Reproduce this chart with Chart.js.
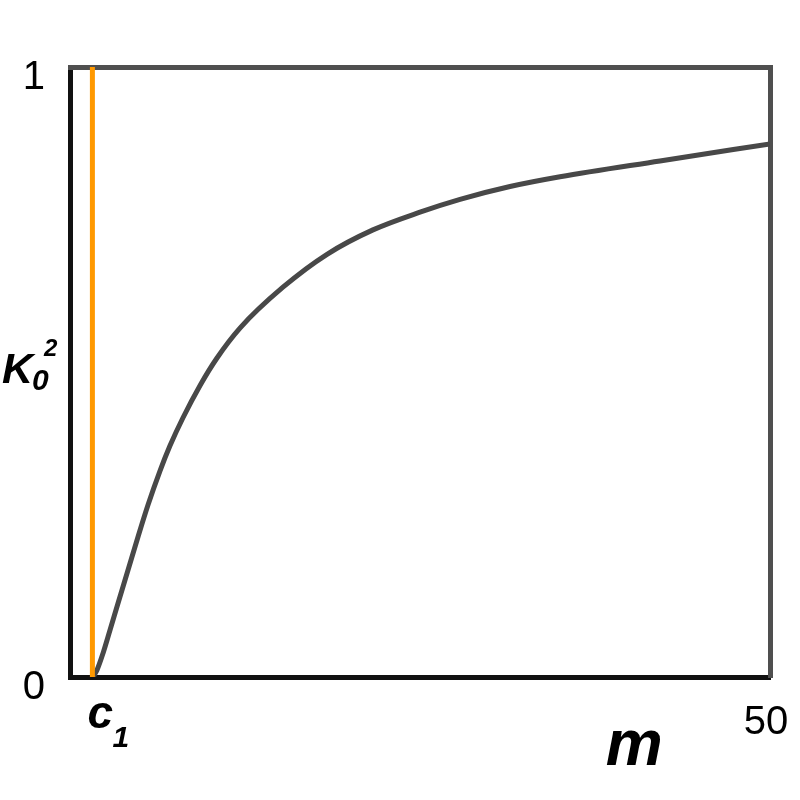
<!DOCTYPE html>
<html>
<head>
<meta charset="utf-8">
<script src="https://cdn.jsdelivr.net/npm/chart.js@4/dist/chart.umd.min.js"></script>
<style>
  html, body { margin: 0; padding: 0; background: #fff; }
  canvas { display: block; }
</style>
</head>
<body>
<canvas id="chart" width="800" height="800"></canvas>
<script>
// threshold c1 (orange vertical line)
const c1 = 1.6;

// curve K0^2 against m
const mValues = [1.64, 1.93, 2.36, 2.86, 3.43, 4.14, 4.86, 5.57, 6.43, 7.14, 8.07, 9.29, 10.5, 12.14, 15.21, 18.36, 21.64, 25, 27.86, 31.43, 35, 42.14, 50];
const kValues = [0, 0.0115, 0.039, 0.077, 0.121, 0.175, 0.23, 0.282, 0.338, 0.379, 0.425, 0.478, 0.523, 0.572, 0.639, 0.693, 0.733, 0.762, 0.783, 0.804, 0.82, 0.846, 0.874];

const yTicks = [0, 1];
const xTicks = [50];

const FONT = '"Liberation Sans", Arial, sans-serif';

// axis names with sub/superscripts drawn on top
const axisNames = {
    id: 'axisNames',
    afterDraw(chart) {
        const ctx = chart.ctx;
        const x = chart.scales.x;
        const y = chart.scales.y;
        const area = chart.chartArea;
        ctx.save();
        ctx.fillStyle = '#000';
        ctx.textBaseline = 'alphabetic';
        ctx.textAlign = 'left';

        // c1 under the orange line
        const cx = x.getPixelForValue(c1) - 5;
        ctx.font = 'italic bold 46px ' + FONT;
        ctx.fillText('c', cx, area.bottom + 51);
        ctx.font = 'italic bold 30px ' + FONT;
        ctx.fillText('1', cx + 25, area.bottom + 70);

        // m
        ctx.font = 'italic bold 64px ' + FONT;
        ctx.textAlign = 'center';
        ctx.fillText('m', x.getPixelForValue(40.3), area.bottom + 88);

        // K0^2
        ctx.textAlign = 'left';
        const ky = y.getPixelForValue(0.482);
        ctx.font = 'italic bold 43px ' + FONT;
        ctx.fillText('K', 2, ky);
        ctx.font = 'italic bold 30px ' + FONT;
        ctx.fillText('0', 32, ky + 7);
        ctx.font = 'italic bold 24px ' + FONT;
        ctx.fillText('2', 44, ky - 27);
        ctx.restore();
    }
};

new Chart(document.getElementById('chart'), {
    type: 'line',
    data: {
        datasets: [
            {
                label: 'c1',
                data: [{x: c1, y: 0}, {x: c1, y: 1}],
                borderColor: '#ff9900',
                borderWidth: 5,
                pointRadius: 0,
            },
            {
                label: 'K0^2',
                data: mValues.map((m, i) => ({x: m, y: kValues[i]})),
                borderColor: '#484848',
                borderWidth: 5,
                pointRadius: 0,
                cubicInterpolationMode: 'monotone',
            },
        ]
    },
    options: {
        responsive: false,
        animation: false,
        layout: { padding: { top: 67, right: 30, left: 0, bottom: 0 } },
        plugins: {
            legend: { display: false },
            tooltip: { enabled: false },
        },
        scales: {
            x: {
                type: 'linear',
                min: 0,
                max: 50,
                grid: { display: false, drawTicks: false },
                border: { color: '#111', width: 5 },
                afterBuildTicks: s => { s.ticks = xTicks.map(v => ({value: v})); },
                afterFit: s => {
                    s.height = 123;
                    s.paddingLeft = 0;
                    s.paddingRight = 0;
                },
                ticks: {
                    color: '#000',
                    padding: 22,
                    labelOffset: -4,
                    maxRotation: 0,
                    font: { family: FONT, size: 40 },
                },
            },
            y: {
                type: 'linear',
                min: 0,
                max: 1,
                grid: { display: false, drawTicks: false },
                border: { color: '#111', width: 5 },
                afterBuildTicks: s => { s.ticks = yTicks.map(v => ({value: v})); },
                afterFit: s => {
                    s.width = 70;
                    s.paddingTop = 0;
                    s.paddingBottom = 0;
                },
                ticks: {
                    color: '#000',
                    padding: 25,
                    labelOffset: 11,
                    font: { family: FONT, size: 40 },
                },
            },
            x2: {
                type: 'linear',
                position: 'top',
                min: 0,
                max: 1,
                grid: { display: false },
                ticks: { display: false },
                border: { color: '#4f4f4f', width: 5 },
                afterFit: s => { s.height = 0; },
            },
            y2: {
                type: 'linear',
                position: 'right',
                min: 0,
                max: 1,
                grid: { display: false },
                ticks: { display: false },
                border: { color: '#4f4f4f', width: 5 },
                afterFit: s => { s.width = 0; },
            },
        }
    },
    plugins: [axisNames],
});
</script>
</body>
</html>
